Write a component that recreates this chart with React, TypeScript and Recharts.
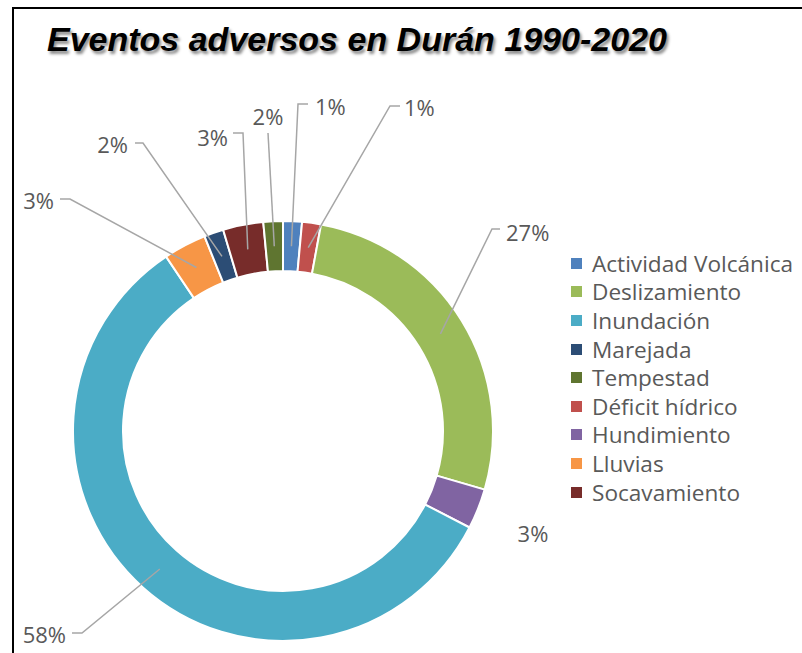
import React from "react";
import { PieChart, Pie, Cell, Legend } from "recharts";

// slice order as drawn, clockwise from 12 o'clock
const CATEGORIES = [
  "Actividad Volcánica",
  "Déficit hídrico",
  "Deslizamiento",
  "Hundimiento",
  "Inundación",
  "Lluvias",
  "Marejada",
  "Socavamiento",
  "Tempestad",
];
const VALUES = [1.45, 1.45, 26.6, 3.1, 58.0, 3.3, 1.5, 3.1, 1.5];

const LEGEND_ORDER = [
  "Actividad Volcánica",
  "Deslizamiento",
  "Inundación",
  "Marejada",
  "Tempestad",
  "Déficit hídrico",
  "Hundimiento",
  "Lluvias",
  "Socavamiento",
];

const COLORS: Record<string, string> = {
  "Actividad Volcánica": "#4F81BD",
  "Déficit hídrico": "#C0504D",
  Deslizamiento: "#9BBB59",
  Hundimiento: "#8064A2",
  Inundación: "#4BACC6",
  Lluvias: "#F79646",
  Marejada: "#2C4D75",
  Socavamiento: "#772C2A",
  Tempestad: "#5F7530",
};

// where Excel parked each data label (knee of leader line, tail, text anchor)
type Lbl = { knee?: [number, number]; tail?: [number, number]; tx: number; ty: number; anchor: "start" | "middle" | "end" };
const LABEL_LAYOUT: Record<string, Lbl> = {
  "Actividad Volcánica": { knee: [298, 104], tail: [308, 104], tx: 315, ty: 106, anchor: "start" },
  "Déficit hídrico": { knee: [390, 106], tail: [400, 106], tx: 404, ty: 107, anchor: "start" },
  Deslizamiento: { knee: [492, 229], tail: [500, 229], tx: 506, ty: 232, anchor: "start" },
  Hundimiento: { tx: 533, ty: 533, anchor: "middle" },
  Inundación: { knee: [82, 633], tail: [72, 633], tx: 66, ty: 634, anchor: "end" },
  Lluvias: { knee: [70, 199], tail: [60, 199], tx: 54, ty: 200, anchor: "end" },
  Marejada: { knee: [143, 143], tail: [135, 143], tx: 128, ty: 144, anchor: "end" },
  Socavamiento: { knee: [243, 133], tail: [233, 133], tx: 228, ty: 137, anchor: "end" },
  Tempestad: { knee: [268, 133], tail: [268, 133], tx: 268, ty: 116, anchor: "middle" },
};

const data = CATEGORIES.map((name, i) => ({ name, value: VALUES[i] }));

const FONT = "'Open Sans', sans-serif";
const TEXT = "#595959";
const RAD = Math.PI / 180;

const renderLabel = (p: any) => {
  const lay = LABEL_LAYOUT[p.name];
  if (!lay) return null;
  const r = (p.innerRadius + p.outerRadius) / 2;
  const sx = p.cx + r * Math.cos(-p.midAngle * RAD);
  const sy = p.cy + r * Math.sin(-p.midAngle * RAD);
  const txt = `${Math.round(p.percent * 100)}%`;
  return (
    <g key={`lbl-${p.index}`}>
      {lay.knee && lay.tail && (
        <polyline
          points={`${sx},${sy} ${lay.knee[0]},${lay.knee[1]} ${lay.tail[0]},${lay.tail[1]}`}
          fill="none"
          stroke="#A6A6A6"
          strokeWidth={1.5}
        />
      )}
      <text
        x={lay.tx}
        y={lay.ty}
        textAnchor={lay.anchor}
        dominantBaseline="central"
        fill={TEXT}
        fontSize={22}
        fontFamily={FONT}
      >
        {txt}
      </text>
    </g>
  );
};

const LegendBox = () => (
  <div style={{ fontFamily: FONT, fontSize: 22.6, color: TEXT }}>
    {LEGEND_ORDER.map((name) => (
      <div key={name} style={{ height: 28.6, display: "flex", alignItems: "center", whiteSpace: "nowrap" }}>
        <span style={{ width: 11, height: 11, background: COLORS[name], display: "inline-block", marginRight: 10 }} />
        <span>{name}</span>
      </div>
    ))}
  </div>
);

export default function App() {
  return (
    <div style={{ position: "absolute", left: 0, top: 0, width: 802, height: 653, overflow: "hidden", background: "#fff" }}>
      <div
        style={{
          position: "absolute",
          left: 12,
          top: 7,
          width: 820,
          height: 700,
          borderTop: "2px solid #000",
          borderLeft: "2px solid #000",
        }}
      />
      <div
        style={{
          position: "absolute",
          left: 47,
          top: 22,
          fontFamily: "'Liberation Sans', Arial, sans-serif",
          fontWeight: "bold",
          fontStyle: "italic",
          fontSize: 34,
          lineHeight: "34px",
          color: "#000",
          whiteSpace: "nowrap",
          textShadow: "2px 3px 3px rgba(0,0,0,0.45)",
        }}
      >
        Eventos adversos en Durán 1990-2020
      </div>
      <PieChart
        width={802}
        height={653}
        margin={{ top: 0, right: 0, bottom: 0, left: 0 }}
        style={{ position: "absolute", left: 0, top: 0 }}
      >
        <Pie
          data={data}
          dataKey="value"
          nameKey="name"
          cx={283}
          cy={431}
          innerRadius={160}
          outerRadius={210}
          startAngle={90}
          endAngle={-270}
          stroke="#fff"
          strokeWidth={2}
          label={renderLabel}
          labelLine={false}
          isAnimationActive={false}
        >
          {data.map((d) => (
            <Cell key={d.name} fill={COLORS[d.name]} />
          ))}
        </Pie>
        <Legend
          layout="vertical"
          content={<LegendBox />}
          wrapperStyle={{ left: 571, top: 249, width: 240, bottom: "auto", right: "auto" }}
        />
      </PieChart>
    </div>
  );
}
